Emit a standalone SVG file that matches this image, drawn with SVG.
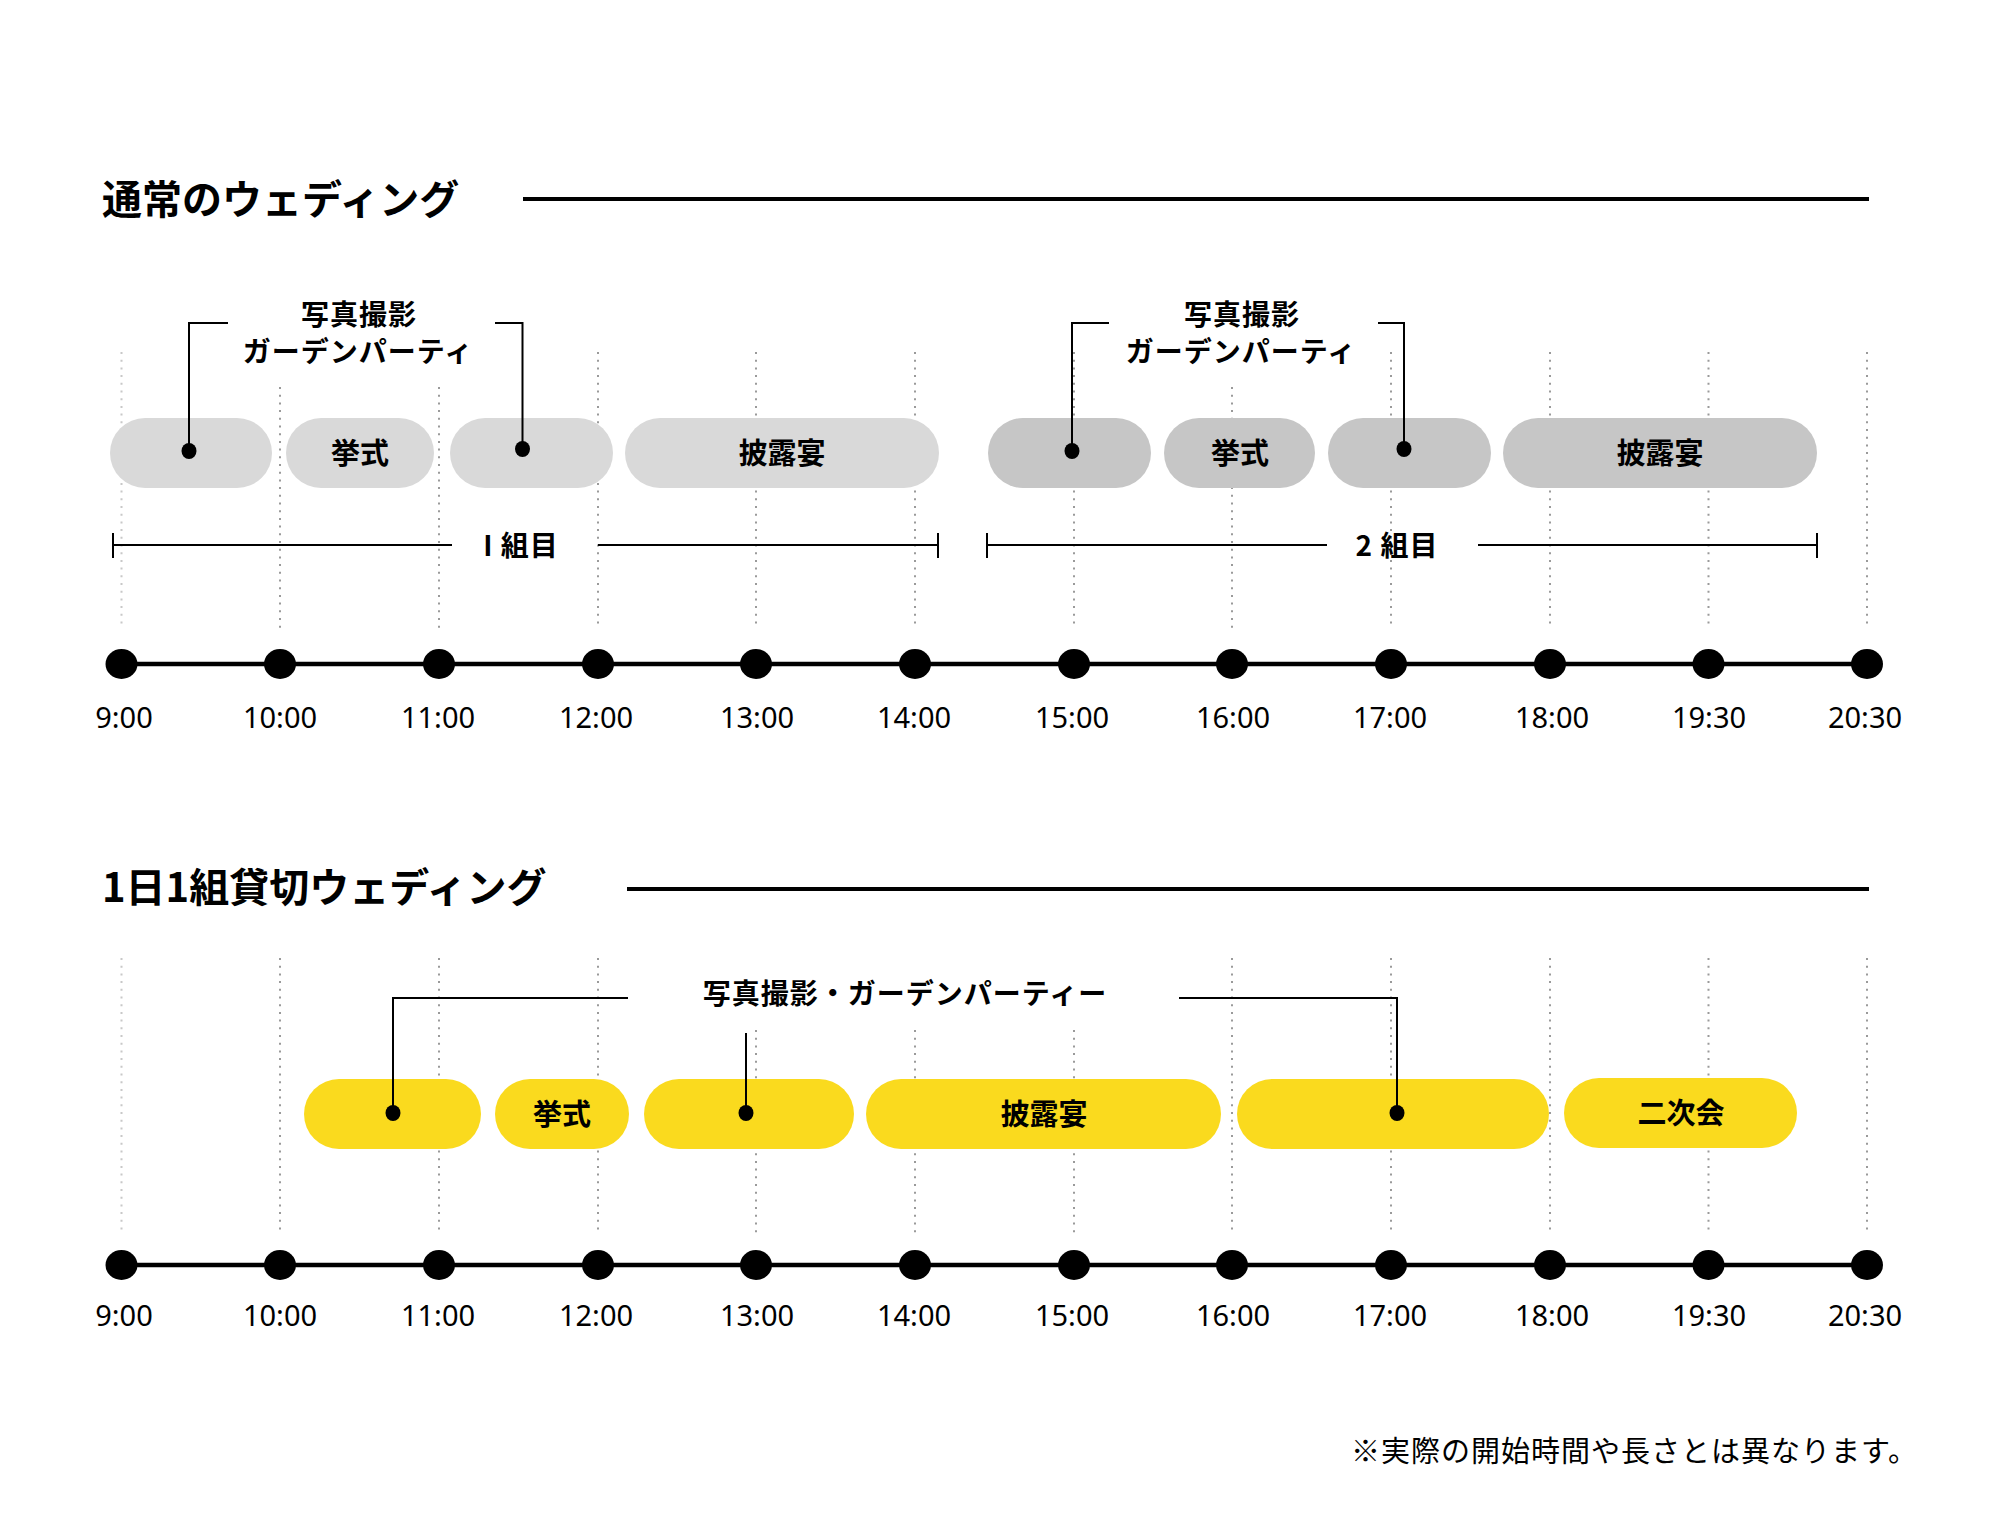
<svg xmlns="http://www.w3.org/2000/svg" width="2000" height="1532" viewBox="0 0 2000 1532">
<style>
.jp{font-family:'Noto Sans CJK JP','Noto Sans CJK SC',sans-serif;fill:#000}
.ttl{font-size:40px;font-weight:700}
.lbl{font-size:28px;font-weight:700;letter-spacing:1px}
.pt{font-size:29px;font-weight:700;text-anchor:middle}
.tm{font-family:'Noto Sans','Noto Sans CJK JP',sans-serif;font-size:29px;fill:#000;text-anchor:middle}
.grid{stroke:#9a9a9a;stroke-width:2;stroke-dasharray:2 5.7;fill:none}
.gridl{stroke:#c8c8c8;stroke-width:2;stroke-dasharray:2 5.7;fill:none}
.rule{stroke:#000;stroke-width:4;fill:none}
.axis{stroke:#000;stroke-width:4.5;fill:none}
.lead{stroke:#000;stroke-width:2;fill:none}
.pa{fill:#D9D9D9}
.pb{fill:#C6C6C6}
.py{fill:#FADA1E}
</style>

<!-- Section 1 title -->
<g id="title1">
<text class="jp ttl" x="102" y="214">通常のウェディング</text>
<line class="rule" x1="523" y1="199" x2="1869" y2="199"/>
</g>

<!-- Section 1 grid -->
<g id="grid1">
<line class="gridl" x1="121.5" y1="352" x2="121.5" y2="628"/>
<line class="grid" x1="280" y1="387" x2="280" y2="628"/>
<line class="grid" x1="439" y1="387" x2="439" y2="628"/>
<line class="grid" x1="598" y1="352" x2="598" y2="628"/>
<line class="grid" x1="756" y1="352" x2="756" y2="628"/>
<line class="grid" x1="915" y1="352" x2="915" y2="628"/>
<line class="grid" x1="1074" y1="352" x2="1074" y2="628"/>
<line class="grid" x1="1232" y1="387" x2="1232" y2="628"/>
<line class="grid" x1="1391" y1="352" x2="1391" y2="628"/>
<line class="grid" x1="1550" y1="352" x2="1550" y2="628"/>
<line class="grid" x1="1708.5" y1="352" x2="1708.5" y2="628"/>
<line class="grid" x1="1867" y1="352" x2="1867" y2="628"/>
</g>

<!-- Section 1 pills -->
<g id="n1-photo1"><rect class="pa" x="110" y="418" width="162" height="70" rx="35"/></g>
<g id="n1-ceremony"><rect class="pa" x="286" y="418" width="148" height="70" rx="35"/><text class="jp pt" x="360" y="464">挙式</text></g>
<g id="n1-photo2"><rect class="pa" x="450" y="418" width="163" height="70" rx="35"/></g>
<g id="n1-reception"><rect class="pa" x="625" y="418" width="314" height="70" rx="35"/><text class="jp pt" x="782" y="464">披露宴</text></g>
<g id="n2-photo1"><rect class="pb" x="988" y="418" width="163" height="70" rx="35"/></g>
<g id="n2-ceremony"><rect class="pb" x="1164" y="418" width="151" height="70" rx="35"/><text class="jp pt" x="1240" y="464">挙式</text></g>
<g id="n2-photo2"><rect class="pb" x="1328" y="418" width="163" height="70" rx="35"/></g>
<g id="n2-reception"><rect class="pb" x="1503" y="418" width="314" height="70" rx="35"/><text class="jp pt" x="1660" y="464">披露宴</text></g>

<!-- Section 1 labels -->
<g id="label1">
<text class="jp lbl" x="359" y="325" text-anchor="middle">写真撮影</text>
<text class="jp lbl" x="358" y="362" text-anchor="middle">ガーデンパーティ</text>
</g>
<g id="label2">
<text class="jp lbl" x="1242" y="325" text-anchor="middle">写真撮影</text>
<text class="jp lbl" x="1241" y="362" text-anchor="middle">ガーデンパーティ</text>
</g>
<g id="span1">
<text class="jp lbl" x="521" y="556" text-anchor="middle">I 組目</text>
</g>
<g id="span2">
<text class="jp lbl" x="1397" y="556" text-anchor="middle">2 組目</text>
</g>

<!-- Section 2 title -->
<g id="title2">
<text class="jp ttl" x="102" y="902">1日1組貸切ウェディング</text>
<line class="rule" x1="627" y1="889" x2="1869" y2="889"/>
</g>

<!-- Section 2 grid -->
<g id="grid2">
<line class="gridl" x1="121.5" y1="958" x2="121.5" y2="1233"/>
<line class="grid" x1="280" y1="958" x2="280" y2="1233"/>
<line class="grid" x1="439" y1="958" x2="439" y2="1233"/>
<line class="grid" x1="598" y1="958" x2="598" y2="1233"/>
<line class="grid" x1="756" y1="1030" x2="756" y2="1233"/>
<line class="grid" x1="915" y1="1030" x2="915" y2="1233"/>
<line class="grid" x1="1074" y1="1030" x2="1074" y2="1233"/>
<line class="grid" x1="1232" y1="958" x2="1232" y2="1233"/>
<line class="grid" x1="1391" y1="958" x2="1391" y2="1233"/>
<line class="grid" x1="1550" y1="958" x2="1550" y2="1233"/>
<line class="grid" x1="1708.5" y1="958" x2="1708.5" y2="1233"/>
<line class="grid" x1="1867" y1="958" x2="1867" y2="1233"/>
</g>

<!-- Section 2 pills -->
<g id="y-photo1"><rect class="py" x="304" y="1079" width="177" height="70" rx="35"/></g>
<g id="y-ceremony"><rect class="py" x="495" y="1079" width="134" height="70" rx="35"/><text class="jp pt" x="562" y="1125">挙式</text></g>
<g id="y-photo2"><rect class="py" x="644" y="1079" width="210" height="70" rx="35"/></g>
<g id="y-reception"><rect class="py" x="866" y="1079" width="355" height="70" rx="35"/><text class="jp pt" x="1044" y="1125">披露宴</text></g>
<g id="y-photo3"><rect class="py" x="1237" y="1079" width="312" height="70" rx="35"/></g>
<g id="y-afterparty"><rect class="py" x="1564" y="1078" width="233" height="70" rx="35"/><text class="jp pt" x="1681" y="1124">二次会</text></g>
<g id="label3">
<text class="jp lbl" x="905" y="1004" text-anchor="middle">写真撮影・ガーデンパーティー</text>
</g>

<!-- Connectors -->
<g id="connectors">
<path class="lead" d="M228,323 H189 V450"/>
<path class="lead" d="M495,323 H522.5 V448"/>
<path class="lead" d="M1109,323 H1072 V450"/>
<path class="lead" d="M1378,323 H1404 V450"/>
<path class="lead" d="M113,545 H452 M598,545 H938 M113,533 V558 M938,533 V558"/>
<path class="lead" d="M987,545 H1327 M1478,545 H1817 M987,533 V558 M1817,533 V558"/>
<path class="lead" d="M628,998 H393 V1113"/>
<path class="lead" d="M1179,998 H1397 V1113"/>
<path class="lead" d="M746,1033 V1113"/>
<ellipse cx="189" cy="451" rx="7.5" ry="8"/>
<ellipse cx="522.5" cy="449" rx="7.5" ry="8"/>
<ellipse cx="1072" cy="451" rx="7.5" ry="8"/>
<ellipse cx="1404" cy="449" rx="7.5" ry="8"/>
<ellipse cx="393" cy="1113" rx="7.5" ry="8"/>
<ellipse cx="746" cy="1113" rx="7.5" ry="8"/>
<ellipse cx="1397" cy="1113" rx="7.5" ry="8"/>
</g>

<!-- Timeline 1 -->
<g id="timeline1">
<line class="axis" x1="121.5" y1="664" x2="1867" y2="664"/>
<g fill="#000">
<ellipse cx="121.5" cy="664" rx="16" ry="15"/>
<ellipse cx="280" cy="664" rx="16" ry="15"/>
<ellipse cx="439" cy="664" rx="16" ry="15"/>
<ellipse cx="598" cy="664" rx="16" ry="15"/>
<ellipse cx="756" cy="664" rx="16" ry="15"/>
<ellipse cx="915" cy="664" rx="16" ry="15"/>
<ellipse cx="1074" cy="664" rx="16" ry="15"/>
<ellipse cx="1232" cy="664" rx="16" ry="15"/>
<ellipse cx="1391" cy="664" rx="16" ry="15"/>
<ellipse cx="1550" cy="664" rx="16" ry="15"/>
<ellipse cx="1708.5" cy="664" rx="16" ry="15"/>
<ellipse cx="1867" cy="664" rx="16" ry="15"/>
</g>
<text class="tm" x="124" y="728">9:00</text>
<text class="tm" x="280" y="728">10:00</text>
<text class="tm" x="438" y="728">11:00</text>
<text class="tm" x="596" y="728">12:00</text>
<text class="tm" x="757" y="728">13:00</text>
<text class="tm" x="914" y="728">14:00</text>
<text class="tm" x="1072" y="728">15:00</text>
<text class="tm" x="1233" y="728">16:00</text>
<text class="tm" x="1390" y="728">17:00</text>
<text class="tm" x="1552" y="728">18:00</text>
<text class="tm" x="1709" y="728">19:30</text>
<text class="tm" x="1865" y="728">20:30</text>
</g>

<!-- Timeline 2 -->
<g id="timeline2">
<line class="axis" x1="121.5" y1="1265" x2="1867" y2="1265"/>
<g fill="#000">
<ellipse cx="121.5" cy="1265" rx="16" ry="15"/>
<ellipse cx="280" cy="1265" rx="16" ry="15"/>
<ellipse cx="439" cy="1265" rx="16" ry="15"/>
<ellipse cx="598" cy="1265" rx="16" ry="15"/>
<ellipse cx="756" cy="1265" rx="16" ry="15"/>
<ellipse cx="915" cy="1265" rx="16" ry="15"/>
<ellipse cx="1074" cy="1265" rx="16" ry="15"/>
<ellipse cx="1232" cy="1265" rx="16" ry="15"/>
<ellipse cx="1391" cy="1265" rx="16" ry="15"/>
<ellipse cx="1550" cy="1265" rx="16" ry="15"/>
<ellipse cx="1708.5" cy="1265" rx="16" ry="15"/>
<ellipse cx="1867" cy="1265" rx="16" ry="15"/>
</g>
<text class="tm" x="124" y="1326">9:00</text>
<text class="tm" x="280" y="1326">10:00</text>
<text class="tm" x="438" y="1326">11:00</text>
<text class="tm" x="596" y="1326">12:00</text>
<text class="tm" x="757" y="1326">13:00</text>
<text class="tm" x="914" y="1326">14:00</text>
<text class="tm" x="1072" y="1326">15:00</text>
<text class="tm" x="1233" y="1326">16:00</text>
<text class="tm" x="1390" y="1326">17:00</text>
<text class="tm" x="1552" y="1326">18:00</text>
<text class="tm" x="1709" y="1326">19:30</text>
<text class="tm" x="1865" y="1326">20:30</text>
</g>

<g id="footnote">
<text class="jp" x="1918" y="1462" font-size="29" letter-spacing="1" text-anchor="end">※実際の開始時間や長さとは異なります。</text>
</g>
</svg>
